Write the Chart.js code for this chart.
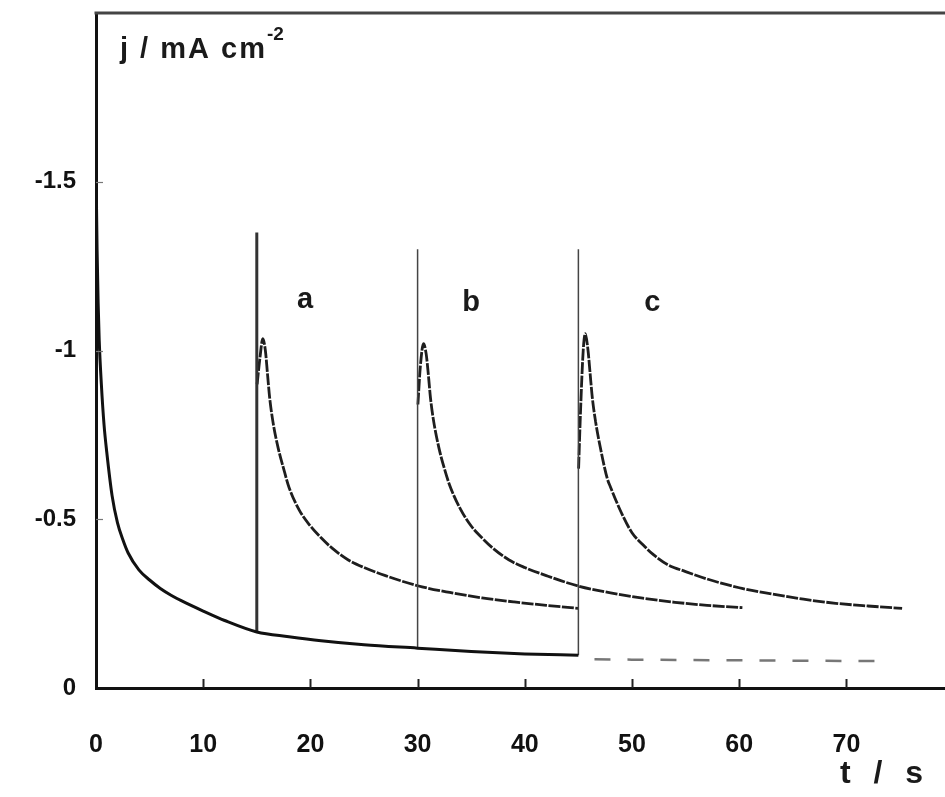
<!DOCTYPE html>
<html>
<head>
<meta charset="utf-8">
<script src="https://cdn.jsdelivr.net/npm/chart.js@4.4.1/dist/chart.umd.min.js"></script>
<style>
  html, body { margin: 0; padding: 0; background: #fff; }
  #wrap { width: 945px; height: 797px; position: relative; }
</style>
</head>
<body>
<div id="wrap"><canvas id="plot"></canvas></div>
<script>
// --- data (t in s, j in mA cm-2) ---
const baseT = [0, 0.05, 0.1, 0.2, 0.3, 0.5, 0.75, 1, 1.5, 2, 2.5, 3, 4, 5, 6, 7, 8, 10, 12, 15, 18, 21, 25, 30, 35, 40, 45];
const baseJ = [-1.6, -1.42, -1.3, -1.14, -1.03, -0.9, -0.78, -0.7, -0.57, -0.49, -0.44, -0.4, -0.35, -0.32, -0.295, -0.275, -0.258, -0.228, -0.2, -0.166, -0.152, -0.14, -0.128, -0.118, -0.108, -0.101, -0.097];

const dashT = [46.5, 50, 55, 60, 65, 70, 74];
const dashJ = [-0.085, -0.084, -0.083, -0.082, -0.081, -0.08, -0.08];

const spikeAT = [15, 15];
const spikeAJ = [-0.166, -1.35];
const spikeBT = [30, 30];
const spikeBJ = [-0.118, -1.3];
const spikeCT = [45, 45];
const spikeCJ = [-0.097, -1.3];

const curveAT = [15.03, 15.3, 15.56, 15.8, 16.0, 16.2, 16.5, 17, 17.5, 18, 19, 20, 21, 22, 23.5, 25, 27, 30, 33, 36, 39, 42, 45];
const curveAJ = [-0.9, -0.98, -1.035, -1.0, -0.93, -0.86, -0.79, -0.71, -0.65, -0.595, -0.525, -0.48, -0.445, -0.415, -0.38, -0.357, -0.333, -0.303, -0.283, -0.267, -0.255, -0.245, -0.236];

const curveBT = [30.03, 30.25, 30.55, 30.8, 31.0, 31.2, 31.5, 32, 32.5, 33, 34, 35, 36, 37, 38.5, 40, 42, 45, 48, 51, 54, 57, 60.3];
const curveBJ = [-0.84, -0.95, -1.02, -0.99, -0.93, -0.86, -0.79, -0.71, -0.65, -0.6, -0.53, -0.48, -0.445, -0.415, -0.38, -0.357, -0.333, -0.302, -0.282, -0.266, -0.254, -0.245, -0.238];

const curveCT = [45.02, 45.2, 45.45, 45.65, 45.9, 46.1, 46.3, 46.6, 47, 47.7, 48, 49, 50, 51, 52, 53.3, 55, 57, 60, 63, 66, 69, 72, 75.2];
const curveCJ = [-0.65, -0.82, -1.0, -1.05, -1.0, -0.93, -0.86, -0.79, -0.72, -0.62, -0.595, -0.52, -0.46, -0.425, -0.395, -0.366, -0.345, -0.323, -0.297, -0.279, -0.263, -0.251, -0.243, -0.236];

const xTicks = [0, 10, 20, 30, 40, 50, 60, 70];
const yTicks = [-1.5, -1, -0.5, 0];

const curveLabels = [
    { text: 'a', t: 19.5, j: -1.16 },
    { text: 'b', t: 35, j: -1.15 },
    { text: 'c', t: 51.9, j: -1.15 }
];

const FONT = "'Liberation Sans', Arial, sans-serif";

function pts(ts, js) {
    return ts.map((t, i) => ({ x: t, y: js[i] }));
}

function lineSet(ts, js, color, width, extra) {
    return Object.assign({
        data: pts(ts, js),
        borderColor: color,
        borderWidth: width,
        pointRadius: 0,
        fill: false,
        tension: 0
    }, extra || {});
}

// ticks drawn inward, top frame line and text labels
const decorPlugin = {
    id: 'decor',
    afterDraw(chart) {
        const ctx = chart.ctx;
        const { left, right, top, bottom } = chart.chartArea;
        const xs = chart.scales.x;
        const ys = chart.scales.y;
        ctx.save();

        ctx.strokeStyle = '#444';
        ctx.lineWidth = 3;
        ctx.beginPath();
        ctx.moveTo(left - 1.5, top);
        ctx.lineTo(right, top);
        ctx.stroke();

        ctx.strokeStyle = '#222';
        ctx.lineWidth = 2;
        xTicks.slice(1).forEach(v => {
            const px = Math.round(xs.getPixelForValue(v)) + 0.5;
            ctx.beginPath();
            ctx.moveTo(px, bottom);
            ctx.lineTo(px, bottom - 9);
            ctx.stroke();
        });
        ctx.lineWidth = 1.2;
        ctx.strokeStyle = '#777';
        yTicks.slice(0, 3).forEach(v => {
            const py = Math.round(ys.getPixelForValue(v)) + 0.5;
            ctx.beginPath();
            ctx.moveTo(left, py);
            ctx.lineTo(left + 7, py);
            ctx.stroke();
        });

        ctx.fillStyle = '#1a1a1a';
        ctx.textBaseline = 'alphabetic';
        ctx.textAlign = 'center';
        ctx.font = 'bold 29px ' + FONT;
        curveLabels.forEach(l => {
            ctx.fillText(l.text, xs.getPixelForValue(l.t), ys.getPixelForValue(l.j) + 11);
        });

        // y axis title
        ctx.textAlign = 'left';
        ctx.font = 'bold 29px ' + FONT;
        ctx.letterSpacing = '2px';
        const tx = left + 24, ty = top + 45;
        ctx.fillText('j / mA cm', tx, ty);
        const w = ctx.measureText('j / mA cm').width;
        ctx.letterSpacing = '0px';
        ctx.font = 'bold 19px ' + FONT;
        ctx.fillText('-2', tx + w, ty - 18);

        // x axis title
        ctx.font = 'bold 32px ' + FONT;
        ctx.letterSpacing = '7px';
        ctx.textAlign = 'left';
        ctx.fillText('t / s', 840, bottom + 95);

        ctx.restore();
    }
};

new Chart(document.getElementById('plot'), {
    type: 'line',
    data: {
        datasets: [
            lineSet(baseT, baseJ, '#111', 3, { cubicInterpolationMode: 'monotone' }),
            lineSet(dashT, dashJ, '#777', 2.5, { borderDash: [16, 17] }),
            lineSet(spikeAT, spikeAJ, '#333', 3),
            lineSet(spikeBT, spikeBJ, '#444', 1.5),
            lineSet(spikeCT, spikeCJ, '#444', 1.5),
            lineSet(curveAT, curveAJ, '#1e1e1e', 2.8, { cubicInterpolationMode: 'monotone', borderDash: [12, 1.5] }),
            lineSet(curveBT, curveBJ, '#1e1e1e', 2.8, { cubicInterpolationMode: 'monotone', borderDash: [12, 1.5] }),
            lineSet(curveCT, curveCJ, '#1e1e1e', 2.8, { cubicInterpolationMode: 'monotone', borderDash: [12, 1.5] })
        ]
    },
    options: {
        responsive: true,
        maintainAspectRatio: false,
        animation: false,
        layout: { padding: { top: 13, right: 0, left: 0, bottom: 0 } },
        plugins: {
            legend: { display: false },
            tooltip: { enabled: false }
        },
        scales: {
            x: {
                type: 'linear',
                min: 0,
                max: 79.2,
                afterBuildTicks: s => { s.ticks = xTicks.map(v => ({ value: v })); },
                afterFit: s => {
                    s.height = 109;
                    s.paddingLeft = 0;
                    s.paddingRight = 0;
                },
                grid: { display: true, drawOnChartArea: false, drawTicks: false },
                border: { display: true, width: 3, color: '#111' },
                ticks: {
                    padding: 42,
                    color: '#111',
                    font: { family: FONT, size: 25, weight: 'bold' }
                }
            },
            y: {
                type: 'linear',
                min: -2,
                max: 0,
                reverse: true,
                afterBuildTicks: s => { s.ticks = yTicks.map(v => ({ value: v })); },
                afterFit: s => {
                    s.width = 96;
                    s.paddingTop = 0;
                    s.paddingBottom = 0;
                },
                grid: { display: true, drawOnChartArea: false, drawTicks: false },
                border: { display: true, width: 3, color: '#111' },
                ticks: {
                    padding: 20,
                    color: '#111',
                    font: { family: FONT, size: 24, weight: 'bold' },
                    callback: v => String(v)
                }
            }
        }
    },
    plugins: [decorPlugin]
});
</script>
</body>
</html>
